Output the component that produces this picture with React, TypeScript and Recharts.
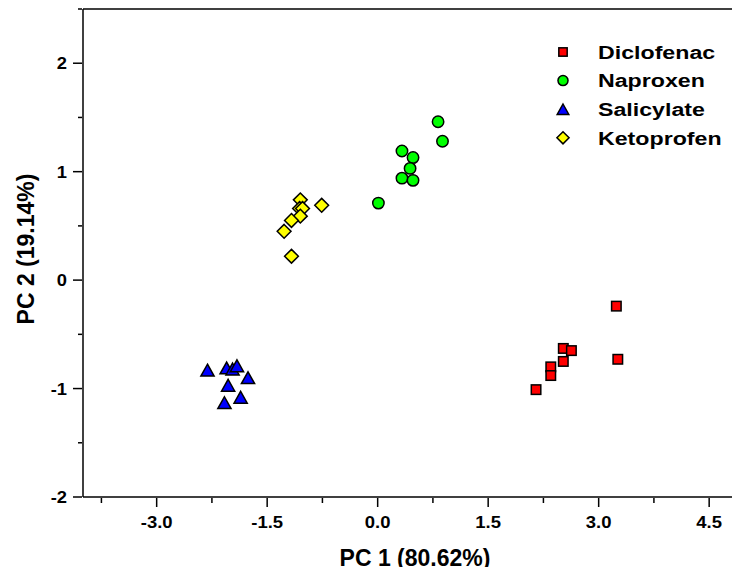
import React from "react";
import { Label, Legend, ReferenceLine, Scatter, ScatterChart, XAxis, YAxis } from "recharts";

const FONT = "Arial, 'Liberation Sans', Helvetica, sans-serif";

const seriesNames = ["Diclofenac", "Naproxen", "Salicylate", "Ketoprofen"];
const seriesColors = ["#ff0000", "#00ff00", "#0000ff", "#ffff00"];
const seriesShapes = ["square", "circle", "triangle", "diamond"];

// PC scores
const diclofenacPc1 = [3.24, 3.26, 2.52, 2.63, 2.52, 2.35, 2.35, 2.15];
const diclofenacPc2 = [-0.24, -0.73, -0.63, -0.65, -0.75, -0.8, -0.88, -1.01];
const naproxenPc1 = [0.82, 0.88, 0.33, 0.48, 0.44, 0.33, 0.48, 0.01];
const naproxenPc2 = [1.46, 1.28, 1.19, 1.13, 1.03, 0.94, 0.92, 0.71];
const salicylatePc1 = [-2.31, -2.05, -1.97, -1.91, -1.76, -2.03, -1.86, -2.08];
const salicylatePc2 = [-0.83, -0.81, -0.82, -0.79, -0.9, -0.97, -1.08, -1.13];
const ketoprofenPc1 = [-1.05, -0.76, -1.06, -1.02, -1.05, -1.17, -1.27, -1.17];
const ketoprofenPc2 = [0.74, 0.69, 0.66, 0.66, 0.59, 0.55, 0.45, 0.22];

const xMajorTicks = [-3, -1.5, 0, 1.5, 3, 4.5];
const xMinorTicks = [-3.75, -2.25, -0.75, 0.75, 2.25, 3.75];
const yMajorTicks = [-2, -1, 0, 1, 2];
const yMinorTicks = [-1.5, -0.5, 0.5, 1.5, 2.5];

const toPoints = (xs: number[], ys: number[]) => xs.map((x, i) => ({ x, y: ys[i] }));

const seriesData = [
  toPoints(diclofenacPc1, diclofenacPc2),
  toPoints(naproxenPc1, naproxenPc2),
  toPoints(salicylatePc1, salicylatePc2),
  toPoints(ketoprofenPc1, ketoprofenPc2),
];

const Marker = ({ kind, cx, cy, fill, s = 1 }: any) => {
  const common = { fill, stroke: "#000", strokeWidth: 1.5 };
  if (kind === "square") {
    const h = 4.75 * s;
    return <rect x={cx - h} y={cy - h} width={2 * h} height={2 * h} {...common} />;
  }
  if (kind === "circle") return <circle cx={cx} cy={cy} r={5.7 * s} {...common} />;
  if (kind === "triangle") {
    const w = 6.6 * s;
    const h = 5.9 * s;
    return <polygon points={`${cx},${cy - h} ${cx + w},${cy + h} ${cx - w},${cy + h}`} {...common} />;
  }
  const r = 6.9 * s;
  return <polygon points={`${cx},${cy - r} ${cx + r},${cy} ${cx},${cy + r} ${cx - r},${cy}`} {...common} />;
};

const XTick = ({ x, y, payload }: any) => {
  const major = xMajorTicks.includes(payload.value);
  return (
    <g>
      <line x1={x} x2={x} y1={y + 1} y2={y + (major ? 10 : 6)} stroke="#000" strokeWidth={1.5} />
      {major && (
        <text
          transform={`translate(${x},${y + 31}) scale(1.12,1)`}
          textAnchor="middle"
          fontFamily={FONT}
          fontWeight={700}
          fontSize={16.5}
          fill="#000"
        >
          {payload.value.toFixed(1)}
        </text>
      )}
    </g>
  );
};

const YTick = ({ x, y, payload }: any) => {
  const major = yMajorTicks.includes(payload.value);
  return (
    <g>
      <line x1={x - 1} x2={x - (major ? 10 : 5)} y1={y} y2={y} stroke="#000" strokeWidth={1.5} />
      {major && (
        <text
          transform={`translate(${x - 16},${y + 6}) scale(1.08,1)`}
          textAnchor="end"
          fontFamily={FONT}
          fontWeight={700}
          fontSize={17}
          fill="#000"
        >
          {String(payload.value)}
        </text>
      )}
    </g>
  );
};

const renderLegend = () => (
  <svg width={200} height={130} style={{ display: "block" }}>
    {seriesNames.map((name, i) => {
      const cy = 22 + i * 28.6;
      return (
        <g key={name}>
          <Marker kind={seriesShapes[i]} cx={23} cy={cy} fill={seriesColors[i]} s={0.88} />
          <text
            transform={`translate(58,${cy + 6.8}) scale(1.22,1)`}
            fontFamily={FONT}
            fontWeight={700}
            fontSize={19}
            fill="#000"
          >
            {name}
          </text>
        </g>
      );
    })}
  </svg>
);

export default function App() {
  return (
    <div style={{ margin: -8, width: 740, height: 575, overflow: "hidden", position: "relative", background: "#fff" }}>
      <ScatterChart width={750} height={575} margin={{ top: 9, right: 4, left: 0, bottom: 0 }}>
        <XAxis
          type="number"
          dataKey="x"
          domain={[-4, 5]}
          ticks={[...xMinorTicks, ...xMajorTicks].sort((a, b) => a - b)}
          interval={0}
          allowDataOverflow
          height={78}
          tickSize={0}
          tickMargin={0}
          tickLine={false}
          tick={<XTick />}
          axisLine={{ stroke: "#000", strokeWidth: 1.5 }}
        >
          <Label
            content={() => (
              <text x={415} y={566} textAnchor="middle" fontFamily={FONT} fontWeight={700} fontSize={23} fill="#000">
                PC 1 (80.62%)
              </text>
            )}
          />
        </XAxis>
        <YAxis
          type="number"
          dataKey="y"
          domain={[-2, 2.5]}
          ticks={[...yMinorTicks, ...yMajorTicks].sort((a, b) => a - b)}
          interval={0}
          allowDataOverflow
          width={83}
          tickSize={0}
          tickMargin={0}
          tickLine={false}
          tick={<YTick />}
          axisLine={{ stroke: "#000", strokeWidth: 1.5 }}
        >
          <Label
            content={() => (
              <text
                x={34}
                y={249}
                transform="rotate(-90, 34, 249)"
                textAnchor="middle"
                fontFamily={FONT}
                fontWeight={700}
                fontSize={23}
                fill="#000"
              >
                PC 2 (19.14%)
              </text>
            )}
          />
        </YAxis>
        <ReferenceLine y={2.5} stroke="#000" strokeWidth={1.5} />
        {seriesNames.map((name, i) => (
          <Scatter
            key={name}
            name={name}
            data={seriesData[i]}
            fill={seriesColors[i]}
            isAnimationActive={false}
            shape={(p: any) => <Marker kind={seriesShapes[i]} cx={p.cx} cy={p.cy} fill={seriesColors[i]} />}
          />
        ))}
        <Legend
          layout="vertical"
          align="center"
          verticalAlign="middle"
          wrapperStyle={{ left: 540, top: 30, width: 200, height: 130 }}
          content={renderLegend}
        />
      </ScatterChart>
    </div>
  );
}
